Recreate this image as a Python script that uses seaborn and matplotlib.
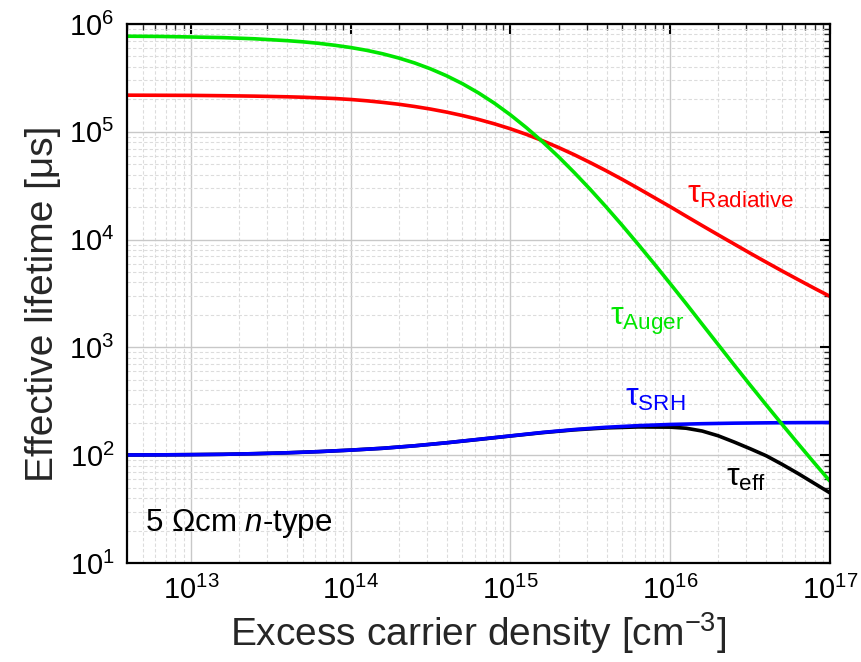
import numpy as np
import pandas as pd
import matplotlib
matplotlib.use("Agg")
import matplotlib.pyplot as plt
import seaborn as sns
from matplotlib.ticker import LogLocator, LogFormatterMathtext, NullFormatter

# ---- data: log10(excess carrier density / cm^-3) and log10(lifetime / us) ----
fine_lx = [12.6, 12.8, 13.0, 13.2, 13.4, 13.6, 13.7, 13.8, 13.9, 14.0, 14.1, 14.2, 14.3, 14.4, 14.5,
           14.6, 14.7, 14.8, 14.9, 15.0, 15.1, 15.2, 15.3, 15.4, 15.5, 15.6, 15.7, 15.8, 15.9, 16.0,
           16.1, 16.2, 16.3, 16.4, 16.5, 16.6, 16.7, 16.8, 16.9, 17.0]

auger_ly = [5.887, 5.885, 5.880, 5.874, 5.863, 5.846, 5.835, 5.821, 5.803, 5.782, 5.756, 5.724, 5.685,
            5.639, 5.584, 5.520, 5.446, 5.361, 5.265, 5.157, 5.038, 4.909, 4.770, 4.621, 4.465, 4.301,
            4.131, 3.955, 3.775, 3.591, 3.405, 3.215, 3.026, 2.837, 2.651, 2.467, 2.286, 2.107, 1.931, 1.758]

rad_ly = [5.340, 5.339, 5.338, 5.335, 5.331, 5.325, 5.321, 5.315, 5.309, 5.300, 5.288, 5.273, 5.256,
          5.235, 5.211, 5.183, 5.151, 5.115, 5.074, 5.028, 4.976, 4.918, 4.855, 4.787, 4.714, 4.638,
          4.558, 4.475, 4.390, 4.305, 4.217, 4.130, 4.044, 3.959, 3.874, 3.791, 3.709, 3.629, 3.550, 3.473]

srh_lx = [12.6, 12.8, 13.0, 13.2, 13.4, 13.6, 13.8, 14.0, 14.2, 14.4, 14.6, 14.8,
          15.0, 15.2, 15.4, 15.6, 15.8, 16.0, 16.2, 16.4, 16.6, 16.8, 17.0]
srh_ly = [2.002, 2.003, 2.005, 2.008, 2.014, 2.022, 2.033, 2.047, 2.064, 2.087, 2.115, 2.147,
          2.179, 2.211, 2.238, 2.259, 2.274, 2.285, 2.292, 2.297, 2.300, 2.302, 2.303]

eff_lx = [12.6, 12.8, 13.0, 13.2, 13.4, 13.6, 13.8, 14.0, 14.2, 14.4, 14.6, 14.8,
          15.0, 15.2, 15.4, 15.6, 15.8, 16.0, 16.1, 16.2, 16.3, 16.4, 16.5, 16.6, 16.7, 16.8, 16.9, 17.0]
eff_ly = [2.002, 2.003, 2.005, 2.008, 2.014, 2.022, 2.033, 2.047, 2.064, 2.087, 2.115, 2.146,
          2.178, 2.209, 2.235, 2.253, 2.262, 2.260, 2.250, 2.224, 2.180, 2.122, 2.060, 1.995,
          1.915, 1.830, 1.740, 1.650]

series = [
    ("Auger", fine_lx, auger_ly, "#00e600"),
    ("Radiative", fine_lx, rad_ly, "#ff0000"),
    ("SRH", srh_lx, srh_ly, "#0000ff"),
    ("eff", eff_lx, eff_ly, "#000000"),
]

frames = []
for name, lx, ly, _ in series:
    frames.append(pd.DataFrame({"x": 10.0 ** np.array(lx), "y": 10.0 ** np.array(ly), "s": name}))
df = pd.concat(frames, ignore_index=True)
palette = {name: c for name, _, _, c in series}

sns.set_theme(style="white")
plt.rcParams["font.family"] = ["Liberation Sans", "DejaVu Sans"]
plt.rcParams["mathtext.fontset"] = "custom"
plt.rcParams["mathtext.rm"] = "Liberation Sans"
plt.rcParams["mathtext.it"] = "Liberation Sans:italic"
plt.rcParams["mathtext.bf"] = "Liberation Sans:bold"
plt.rcParams["mathtext.sf"] = "Liberation Sans"

fig = plt.figure(figsize=(8.62, 6.62), dpi=100)
ax = fig.add_axes([0.1473, 0.1496, 0.8156, 0.8141])

sns.lineplot(data=df, x="x", y="y", hue="s", palette=palette, hue_order=["eff", "SRH", "Radiative", "Auger"],
             linewidth=2.6, legend=False, ax=ax, sort=False, estimator=None)
for ln in ax.get_lines():
    ln.set_solid_joinstyle("round")
    ln.set_solid_capstyle("butt")

ax.set_xscale("log")
ax.set_yscale("log")
ax.set_xlim(10 ** 12.6, 1e17)
ax.set_ylim(10, 1e6)

ax.xaxis.set_major_locator(LogLocator(base=10, numticks=20))
ax.xaxis.set_minor_locator(LogLocator(base=10, subs=np.arange(2, 10), numticks=100))
ax.yaxis.set_major_locator(LogLocator(base=10, numticks=20))
ax.yaxis.set_minor_locator(LogLocator(base=10, subs=np.arange(2, 10), numticks=100))
ax.xaxis.set_major_formatter(LogFormatterMathtext())
ax.yaxis.set_major_formatter(LogFormatterMathtext())
ax.xaxis.set_minor_formatter(NullFormatter())
ax.yaxis.set_minor_formatter(NullFormatter())

ax.grid(True, which="major", color="#c8c8c8", linewidth=1.0, linestyle="-")
ax.grid(True, which="minor", color="#dcdcdc", linewidth=0.8, linestyle=(0, (3, 2)))
ax.set_axisbelow(True)

ax.tick_params(which="major", direction="in", length=7, width=1.5, top=True, right=True,
               labelsize=21, pad=9, colors="black")
ax.tick_params(which="minor", direction="in", length=4, width=1.0, top=True, right=True)
for sp in ax.spines.values():
    sp.set_visible(True)
    sp.set_linewidth(1.6)
    sp.set_color("black")

ax.set_xlabel("Excess carrier density [cm$^{-3}$]", fontsize=28, labelpad=4)
ax.set_ylabel("Effective lifetime [μs]", fontsize=28)
ax.yaxis.set_label_coords(-0.094, 0.48)

lab_fs = 23
ax.text(1.28e16, 2.6e4, "τ$_{\\mathrm{Radiative}}$", color="#ff0000", fontsize=lab_fs, ha="left", va="center")
ax.text(4.2e15, 1730, "τ$_{\\mathrm{Auger}}$", color="#00e600", fontsize=lab_fs, ha="left", va="center")
ax.text(5.2e15, 342, "τ$_{\\mathrm{SRH}}$", color="#0000ff", fontsize=lab_fs, ha="left", va="center")
ax.text(2.24e16, 62, "τ$_{\\mathrm{eff}}$", color="#000000", fontsize=lab_fs, ha="left", va="center")

ax.text(0.026, 0.074, "5 Ωcm $\\mathit{n}$-type", transform=ax.transAxes, fontsize=22.5,
        ha="left", va="center", color="black")

fig.savefig("out.png", dpi=100)
